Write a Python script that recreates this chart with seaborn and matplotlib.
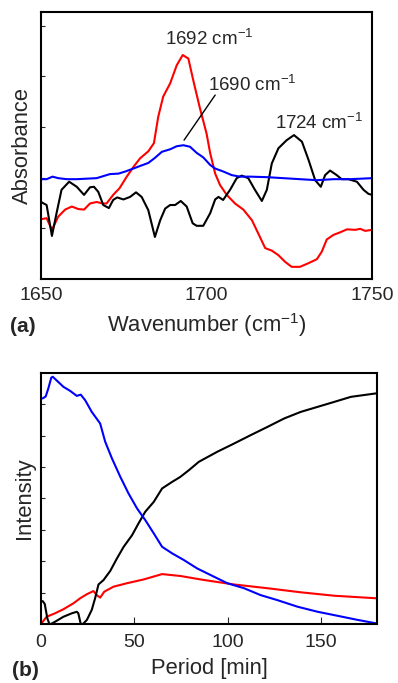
import numpy as np
import pandas as pd
import matplotlib
matplotlib.use('Agg')
import matplotlib.pyplot as plt
import seaborn as sns

# ---- (a) IR difference spectra ----
wn_black = [1650.0, 1651.7, 1653.3, 1654.7, 1656.2, 1658.5, 1660.8, 1663.0, 1664.8, 1666.0,
            1667.3, 1668.8, 1670.5, 1671.8, 1673.0, 1674.9, 1676.9, 1678.7, 1680.4, 1682.4,
            1684.4, 1686.0, 1687.5, 1689.0, 1690.5, 1692.2, 1694.0, 1695.8, 1697.0, 1699.0,
            1701.1, 1702.6, 1703.6, 1705.0, 1707.1, 1709.1, 1710.6, 1712.6, 1714.6, 1716.7,
            1718.2, 1719.7, 1721.7, 1724.2, 1726.4, 1728.8, 1730.8, 1732.8, 1734.5, 1735.8,
            1737.3, 1739.3, 1740.8, 1742.8, 1745.4, 1747.4, 1748.9, 1750.0]
abs_black = [1.52, 1.46, 0.85, 1.30, 1.76, 1.92, 1.82, 1.66, 1.81, 1.82,
             1.72, 1.46, 1.40, 1.56, 1.61, 1.57, 1.62, 1.71, 1.62, 1.36,
             0.83, 1.16, 1.39, 1.46, 1.46, 1.54, 1.43, 1.10, 1.05, 1.05,
             1.30, 1.57, 1.62, 1.56, 1.76, 1.99, 2.04, 1.99, 1.76, 1.54,
             1.76, 2.28, 2.58, 2.74, 2.84, 2.71, 2.35, 1.95, 1.82, 2.05,
             2.14, 2.05, 1.97, 1.97, 1.92, 1.76, 1.68, 1.66]

wn_red = [1650.0, 1651.7, 1653.3, 1655.2, 1657.3, 1659.3, 1661.3, 1663.0, 1664.8, 1666.8,
          1668.6, 1669.8, 1671.8, 1673.7, 1675.9, 1677.9, 1679.9, 1682.4, 1684.1, 1685.4,
          1686.9, 1689.0, 1691.0, 1692.8, 1694.5, 1696.2, 1698.0, 1700.0, 1701.1, 1702.6,
          1704.1, 1706.1, 1708.6, 1711.1, 1713.7, 1715.6, 1717.7, 1719.7, 1721.7, 1723.7,
          1725.7, 1728.2, 1730.7, 1733.3, 1734.8, 1736.3, 1738.3, 1740.3, 1742.4, 1744.9,
          1746.4, 1747.9, 1750.0]
abs_red = [1.18, 1.20, 0.97, 1.23, 1.37, 1.43, 1.38, 1.37, 1.49, 1.52,
           1.49, 1.49, 1.66, 1.79, 2.02, 2.21, 2.38, 2.52, 2.68, 3.20,
           3.60, 3.86, 4.22, 4.42, 4.35, 3.86, 3.37, 2.87, 2.48, 2.08,
           1.85, 1.66, 1.49, 1.37, 1.16, 0.90, 0.61, 0.56, 0.47, 0.34,
           0.24, 0.24, 0.31, 0.39, 0.54, 0.78, 0.87, 0.92, 0.98, 0.97,
           0.99, 0.95, 0.97]

wn_blue = [1650.0, 1651.7, 1653.5, 1655.2, 1657.8, 1660.8, 1663.8, 1666.8, 1668.8, 1670.8,
           1673.4, 1675.4, 1677.9, 1679.9, 1682.4, 1684.4, 1686.5, 1689.0, 1691.0, 1693.0,
           1695.0, 1697.0, 1699.0, 1701.1, 1702.6, 1705.1, 1707.6, 1710.1, 1713.1, 1718.2,
           1723.2, 1728.2, 1733.3, 1738.3, 1743.4, 1750.0]
abs_blue = [1.97, 1.97, 2.02, 1.99, 1.97, 1.97, 1.98, 1.99, 2.03, 2.07,
            2.08, 2.12, 2.18, 2.23, 2.29, 2.39, 2.51, 2.56, 2.62, 2.64,
            2.61, 2.49, 2.40, 2.25, 2.18, 2.12, 2.05, 2.02, 2.02, 2.01,
            1.99, 1.97, 1.95, 1.97, 1.97, 1.99]

# ---- (b) band intensity vs time ----
t_blue = [0.9, 2.5, 3.9, 5.5, 6.3, 12.0, 15.6, 19.2, 21.3, 23.7, 27.2, 31.7, 34.4, 38.0,
          42.5, 46.9, 51.5, 55.9, 60.4, 64.9, 70.3, 76.5, 83.7, 92.6, 99.8, 108.8, 117.7,
          126.7, 137.5, 148.2, 159.0, 169.7, 179.6]
i_blue = [7.19, 7.25, 7.50, 7.85, 7.88, 7.56, 7.43, 7.27, 7.31, 7.13, 6.76, 6.39, 5.81, 5.28,
          4.69, 4.16, 3.68, 3.31, 2.89, 2.46, 2.25, 2.04, 1.77, 1.51, 1.30, 1.14, 0.92,
          0.76, 0.55, 0.39, 0.26, 0.13, 0.02]

t_red = [0.0, 3.0, 7.5, 12.0, 17.4, 21.0, 24.6, 28.1, 29.9, 31.7, 33.9, 38.9, 46.1, 55.0,
         64.9, 74.7, 85.5, 90.9, 103.4, 121.3, 139.2, 157.2, 179.6]
i_red = [0.0, 0.23, 0.34, 0.47, 0.66, 0.82, 0.95, 1.05, 0.92, 0.84, 1.03, 1.19, 1.30, 1.42,
         1.59, 1.53, 1.42, 1.37, 1.26, 1.14, 1.01, 0.90, 0.82]

t_black = [0.9, 2.0, 3.4, 4.5, 5.3, 7.5, 12.0, 16.5, 19.2, 20.0, 21.3, 22.5, 24.6, 27.2,
           29.0, 30.8, 33.5, 37.1, 40.7, 44.3, 48.8, 52.3, 55.9, 60.4, 64.9, 70.3, 74.7,
           79.2, 84.6, 94.5, 103.4, 112.4, 121.3, 130.3, 139.2, 148.2, 157.2, 166.1, 179.6]
i_black = [0.73, 0.64, 0.18, 0.0, 0.0, 0.07, 0.23, 0.34, 0.39, 0.34, 0.0, 0.0, 0.13, 0.45,
           0.82, 1.26, 1.40, 1.69, 2.09, 2.46, 2.83, 3.21, 3.58, 3.89, 4.32, 4.53, 4.69,
           4.90, 5.17, 5.49, 5.75, 6.02, 6.28, 6.55, 6.76, 6.92, 7.08, 7.24, 7.35]

# ---- style ----
sns.set_style('white')
plt.rcParams['font.family'] = ['Liberation Sans', 'DejaVu Sans']
plt.rcParams['mathtext.fontset'] = 'custom'
plt.rcParams['mathtext.rm'] = 'Liberation Sans'
plt.rcParams['mathtext.it'] = 'Liberation Sans:italic'
plt.rcParams['mathtext.bf'] = 'Liberation Sans:bold'
fs_tick = 14
fs_lab = 15.8
fs_ann = 13.5
lw = 1.5

fig = plt.figure(figsize=(3.98, 6.83), dpi=100)
ax1 = fig.add_axes([0.103, 0.5915, 0.832, 0.391])
ax2 = fig.add_axes([0.103, 0.0864, 0.844, 0.3675])

# (a)
sns.lineplot(x=wn_red, y=abs_red, ax=ax1, color='#FF0000', lw=lw, estimator=None)
sns.lineplot(x=wn_black, y=abs_black, ax=ax1, color='black', lw=lw, estimator=None)
sns.lineplot(x=wn_blue, y=abs_blue, ax=ax1, color='#0000FF', lw=lw, estimator=None)
ax1.set_xlim(1650, 1750)
ax1.set_ylim(0, 5.27)
ax1.set_xticks([1650, 1700, 1750])
ax1.set_yticks([1, 2, 3, 4, 5])
ax1.set_yticklabels([])
ax1.tick_params(axis='x', length=0, pad=6, labelsize=fs_tick)
ax1.tick_params(axis='y', direction='in', length=3, width=0.8, left=True)
ax1.set_xlabel('Wavenumber (cm$^{-1}$)', fontsize=fs_lab, labelpad=5)
ax1.set_ylabel('Absorbance', fontsize=fs_lab, labelpad=2)

ax1.text(1700.8, 4.73, '1692 cm$^{-1}$', fontsize=fs_ann, ha='center', va='center')
ax1.text(1713.9, 3.83, '1690 cm$^{-1}$', fontsize=fs_ann, ha='center', va='center')
ax1.text(1734.1, 3.08, '1724 cm$^{-1}$', fontsize=fs_ann, ha='center', va='center')
ax1.plot([1702.6, 1693.2], [3.63, 2.74], color='black', lw=1.0)

# (b)
sns.lineplot(x=t_red, y=i_red, ax=ax2, color='#FF0000', lw=lw, estimator=None)
sns.lineplot(x=t_black, y=i_black, ax=ax2, color='black', lw=lw, estimator=None)
sns.lineplot(x=t_blue, y=i_blue, ax=ax2, color='#0000FF', lw=lw, estimator=None)
ax2.set_xlim(0, 180)
ax2.set_ylim(0, 8.0)
ax2.set_xticks([0, 50, 100, 150])
ax2.set_yticks([1, 2, 3, 4, 5, 6, 7])
ax2.set_yticklabels([])
ax2.tick_params(axis='x', direction='in', length=5, width=0.8, pad=7, labelsize=fs_tick, bottom=True)
ax2.tick_params(axis='y', direction='in', length=3, width=0.8, left=True)
ax2.set_xlabel('Period [min]', fontsize=fs_lab, labelpad=5.5)
ax2.set_ylabel('Intensity', fontsize=fs_lab, labelpad=0.5)

for ax in (ax1, ax2):
    for s in ax.spines.values():
        s.set_color('black')
        s.set_linewidth(1.5)

fig.text(0.025, 1 - 327 / 683, '(a)', fontsize=15, fontweight='bold', va='center', ha='left')
fig.text(0.03, 1 - 670 / 683, '(b)', fontsize=15, fontweight='bold', va='center', ha='left')

fig.savefig('out.png', dpi=100)
